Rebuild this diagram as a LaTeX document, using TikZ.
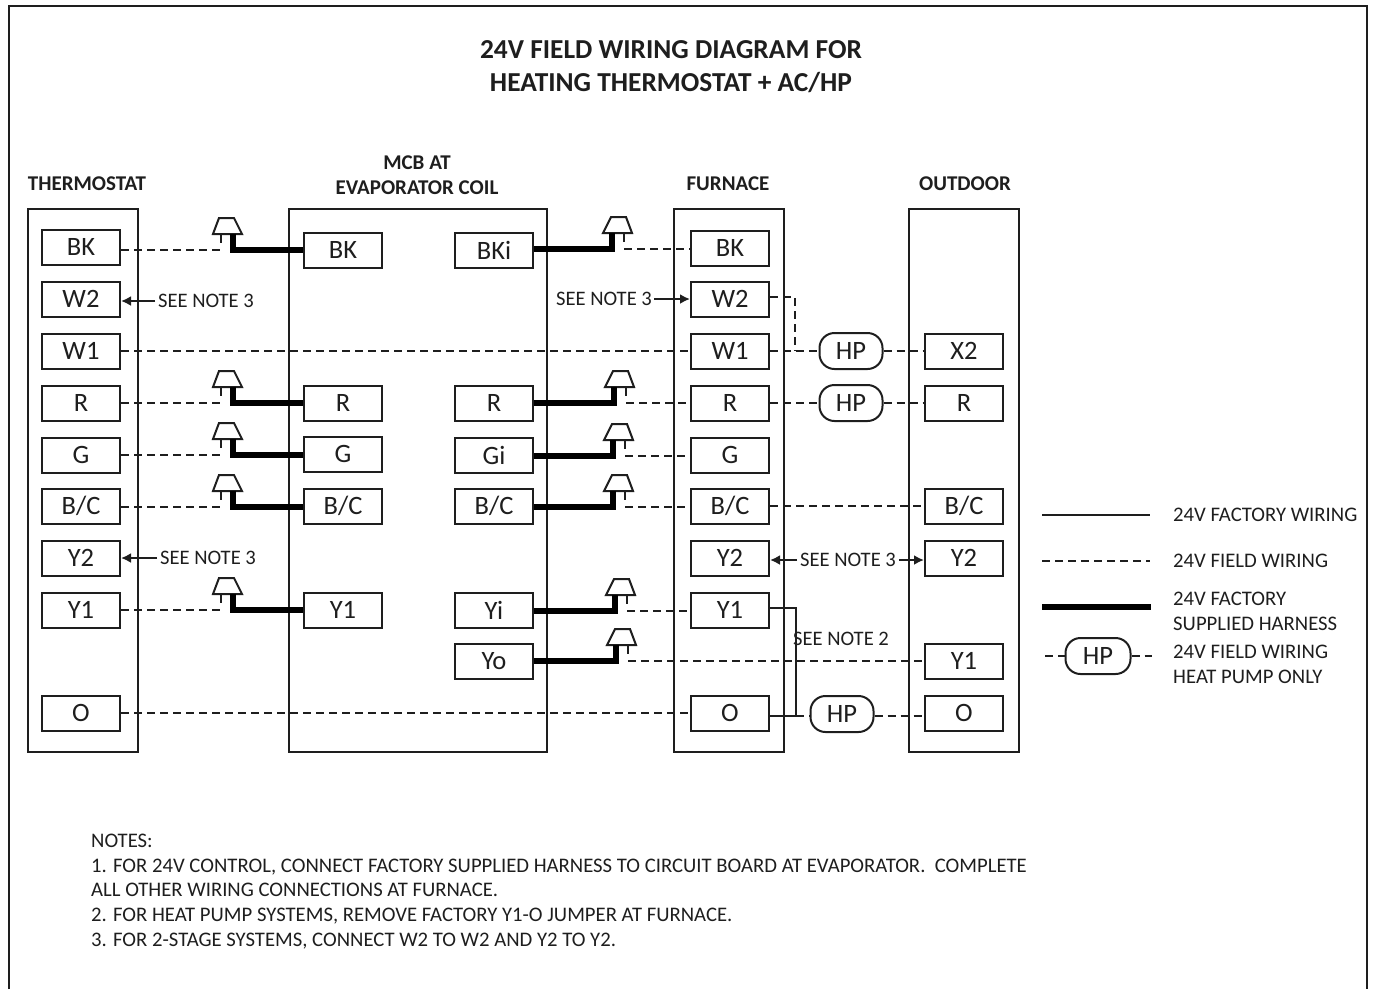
\documentclass[tikz,border=0pt]{standalone}
\usepackage{fontspec}
\setmainfont{Carlito}
\usetikzlibrary{positioning, arrows.meta}
\definecolor{ink}{HTML}{1E1E1E}
\tikzset{
  wire/.style={line width=2pt, draw=ink},
  field/.style={wire, dash pattern=on 8pt off 5pt},
  harness/.style={line width=6pt, draw=black},
  notearrow/.style={wire, -{Latex[length=10pt,width=10pt]}},
  term/.style={wire, fill=white, minimum width=78pt, minimum height=35pt, inner sep=0pt, font=\fontsize{26.5}{26.5}\selectfont, text=ink},
  unit/.style={wire},
  hp/.style={wire, fill=white, rounded corners=15pt, minimum width=63pt, minimum height=36pt, inner sep=0pt, font=\fontsize{26.5}{26.5}\selectfont, text=ink},
  note/.style={inner sep=0pt, anchor=mid, font=\fontsize{20.6}{20.6}\selectfont, text=ink},
  txt/.style={inner sep=0pt, anchor=mid west, font=\fontsize{20.7}{20.7}\selectfont, text=ink},
  head/.style={inner sep=0pt, anchor=mid, font=\bfseries\fontsize{21}{21}\selectfont, text=ink},
  plug/.pic={
    \draw[wire, fill=white] (-20,-16) -- (-14,-32) -- (1,-32) -- (9,-16) -- cycle;
    \draw[wire] (-12,-16) -- (-12,-7);
    \draw[harness] (0,-16) -- (0,3);
    \coordinate (-post) at (0,0);
    \coordinate (-pin) at (-12,0);
  }
}

\begin{document}
\begin{tikzpicture}[x=1pt, y=-1pt]
  \useasboundingbox (0,0) rectangle (1374,989);

  % Page frame and titles
  \draw[wire] (9,989) -- (9,6) -- (1367,6) -- (1367,989);
  \node[head, font=\bfseries\fontsize{27.4}{27.4}\selectfont] (title1) at (671,56) {24V FIELD WIRING DIAGRAM FOR};
  \node[head, font=\bfseries\fontsize{27.4}{27.4}\selectfont] (title2) at (671,89) {HEATING THERMOSTAT + AC/HP};
  \node[head] (headT) at (87,188) {THERMOSTAT};
  \node[head] (headM1) at (417,167) {MCB AT};
  \node[head] (headM2) at (417,192) {EVAPORATOR COIL};
  \node[head] (headF) at (728,188) {FURNACE};
  \node[head] (headO) at (965,188) {OUTDOOR};

  % Units
  \draw[unit] (28,209) rectangle (138,752);
  \draw[unit] (289,209) rectangle (547,752);
  \draw[unit] (674,209) rectangle (784,752);
  \draw[unit] (909,209) rectangle (1019,752);

  % Terminals
  \foreach \n/\t/\y in {BK/BK/247, W2/W2/299, W1/W1/351, R/R/403, G/G/455, BC/B\slash C/506, Y2/Y2/558, Y1/Y1/610, O/O/713} {
    \node[term] (t\n) at (81,\y) {\t};
  }
  \foreach \n/\t/\y in {BK/BK/250, R/R/403, G/G/454, BC/B\slash C/506, Y1/Y1/610} {
    \node[term] (m\n) at (343,\y) {\t};
  }
  \foreach \n/\t/\y in {BK/BKi/250, R/R/403, G/Gi/455, BC/B\slash C/506, Y1/Yi/610, Yo/Yo/661} {
    \node[term] (r\n) at (494,\y) {\t};
  }
  \foreach \n/\t/\y in {BK/BK/248, W2/W2/299, W1/W1/351, R/R/403, G/G/455, BC/B\slash C/506, Y2/Y2/558, Y1/Y1/610, O/O/713} {
    \node[term] (f\n) at (730,\y) {\t};
  }
  \foreach \n/\t/\y in {X2/X2/351, R/R/403, BC/B\slash C/506, Y2/Y2/558, Y1/Y1/661, O/O/713} {
    \node[term] (o\n) at (964,\y) {\t};
  }

  % Harness plugs, thermostat side
  \foreach \n/\y in {BK/250, R/403, G/455, BC/507, Y1/610} {
    \pic (pl\n) at (233,\y) {plug};
    \draw[harness] (pl\n-post) -- (m\n.west |- pl\n-post);
    \draw[field] (t\n.east |- pl\n-post) -- (pl\n-pin);
  }

  % Harness plugs, furnace side
  \foreach \n/\x/\y in {BK/612/249, R/614/403, G/613/456, BC/613/507, Y1/615/611} {
    \pic[xscale=-1] (pr\n) at (\x,\y) {plug};
    \draw[harness] (r\n.east |- pr\n-post) -- (pr\n-post);
    \draw[field] (pr\n-pin) -- (f\n.west |- pr\n-pin);
  }
  \pic[xscale=-1] (prYo) at (616,661) {plug};
  \draw[harness] (rYo.east |- prYo-post) -- (prYo-post);
  \draw[field] (prYo-pin) -- (oY1.west |- prYo-pin);

  % Field wiring
  \node[hp] (hpW) at (851,351) {HP};
  \node[hp] (hpR) at (851,403) {HP};
  \node[hp] (hpO) at (842,714) {HP};
  \coordinate (jumpO) at (796,716);
  \draw[field] (tW1) -- (fW1);
  \draw[field] (tO) -- (fO);
  \draw[field] (fW1) -- (hpW);
  \draw[field] (hpW) -- (oX2);
  \draw[field] (fR) -- (hpR);
  \draw[field] (hpR) -- (oR);
  \draw[field] (fBC) -- (oBC);
  \draw[field] (jumpO) -- (hpO.west |- jumpO);
  \draw[field] (hpO.east |- jumpO) -- (oO.west |- jumpO);
  \draw[field] (fW2.east |- 0,297) -| (795,351);

  % Factory jumper
  \draw[wire] (fY1.east |- 0,608) -| (jumpO) -- (fO.east |- jumpO);

  % Notes on the wiring
  \node[note] (seeW2) at (206,305) {SEE NOTE 3};
  \node[note] (seeFW2) at (604,303) {SEE NOTE 3};
  \node[note] (seeY2) at (208,562) {SEE NOTE 3};
  \node[note] (seeFY2) at (848,564) {SEE NOTE 3};
  \node[note] (seeJ) at (841,643) {SEE NOTE 2};
  \coordinate (arrW2) at (155,301);
  \coordinate (arrFW2) at (654,299);
  \coordinate (arrY2) at (157,558);
  \coordinate (arrFY2a) at (797,560);
  \coordinate (arrFY2b) at (899,560);
  \draw[notearrow] (arrW2) -- (tW2.east |- arrW2);
  \draw[notearrow] (arrFW2) -- (fW2.west |- arrFW2);
  \draw[notearrow] (arrY2) -- (tY2.east |- arrY2);
  \draw[notearrow] (arrFY2a) -- (fY2.east |- arrFY2a);
  \draw[notearrow] (arrFY2b) -- (oY2.west |- arrFY2b);

  % Legend
  \coordinate (legA) at (1042,515);
  \coordinate (legB) at (1150,515);
  \coordinate (legC) at (1042,561);
  \coordinate (legD) at (1150,561);
  \coordinate (legE) at (1042,607);
  \coordinate (legF) at (1151,607);
  \coordinate (legG) at (1045,656);
  \coordinate (legH) at (1152,656);
  \node[hp, minimum width=65pt] (hpL) at (1098,656) {HP};
  \draw[wire] (legA) -- (legB);
  \draw[field] (legC) -- (legD);
  \draw[harness] (legE) -- (legF);
  \draw[field] (legG) -- (hpL);
  \draw[field] (hpL) -- (legH);
  \node[txt] (leg1) at (1173,519) {24V FACTORY WIRING};
  \node[txt] (leg2) at (1173,565) {24V FIELD WIRING};
  \node[txt] (leg3) at (1173,603) {24V FACTORY};
  \node[txt] (leg4) at (1173,628) {SUPPLIED HARNESS};
  \node[txt] (leg5) at (1173,656) {24V FIELD WIRING};
  \node[txt] (leg6) at (1173,681) {HEAT PUMP ONLY};

  % Notes
  \node[txt] (notes0) at (91,845) {NOTES:};
  \node[txt] (notes1) at (91,870) {1. FOR 24V CONTROL, CONNECT FACTORY SUPPLIED HARNESS TO CIRCUIT BOARD AT EVAPORATOR.\ \ COMPLETE};
  \node[txt] (notes2) at (91,894) {ALL OTHER WIRING CONNECTIONS AT FURNACE.};
  \node[txt] (notes3) at (91,919) {2. FOR HEAT PUMP SYSTEMS, REMOVE FACTORY Y1-O JUMPER AT FURNACE.};
  \node[txt] (notes4) at (91,944) {3. FOR 2-STAGE SYSTEMS, CONNECT W2 TO W2 AND Y2 TO Y2.};
\end{tikzpicture}
\end{document}
